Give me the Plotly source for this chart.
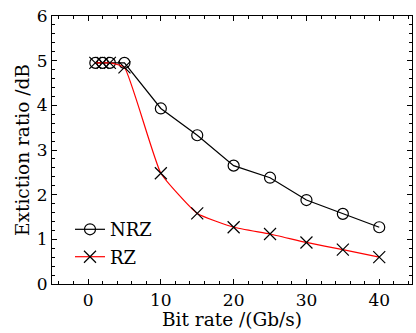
import plotly.graph_objects as go

bit_rate = [1, 2, 3, 5, 10, 15, 20, 25, 30, 35, 40]
nrz = [4.95, 4.95, 4.95, 4.95, 3.93, 3.33, 2.65, 2.38, 1.88, 1.57, 1.27]
rz = [4.95, 4.95, 4.95, 4.85, 2.48, 1.58, 1.27, 1.12, 0.93, 0.77, 0.60]

FONT = "DejaVu Serif"

fig = go.Figure()
fig.add_trace(go.Scatter(
    x=bit_rate, y=nrz, name="NRZ", mode="lines+markers", legendgroup="a",
    line=dict(color="black", width=1.2),
    marker=dict(symbol="circle-open", size=11, color="black", line=dict(width=1.2)),
))
fig.add_trace(go.Scatter(
    x=bit_rate, y=rz, name="RZ", mode="lines+markers", legendgroup="b",
    line=dict(color="red", width=1.2, shape="spline", smoothing=0.4),
    marker=dict(symbol="x-thin-open", size=12, color="black", line=dict(width=1.2, color="black")),
))

axis_common = dict(
    showgrid=False, zeroline=False, showline=True, linecolor="black", linewidth=1.2,
    mirror="allticks", ticks="inside", ticklen=5, tickcolor="black", tickwidth=1,
    tickfont=dict(family=FONT, size=17, color="black"),
)
fig.update_xaxes(
    range=[-4.95, 44.5], tickvals=[0, 10, 20, 30, 40],
    minor=dict(dtick=2, ticks="inside", ticklen=3, tickcolor="black"),
    title=dict(text="Bit rate /(Gb/s)", font=dict(family=FONT, size=18.5, color="black"), standoff=3),
    **axis_common,
)
fig.update_yaxes(
    range=[0, 6], dtick=1,
    minor=dict(dtick=0.2, ticks="inside", ticklen=3, tickcolor="black"),
    title=dict(text="Extiction ratio /dB", font=dict(family=FONT, size=18.5, color="black"), standoff=2),
    **axis_common,
)
fig.update_layout(
    width=416, height=333,
    margin=dict(l=52, r=4, t=16, b=49),
    paper_bgcolor="white", plot_bgcolor="white",
    showlegend=True,
    legend=dict(x=0.05, y=0.272, xanchor="left", yanchor="top", bgcolor="rgba(0,0,0,0)",
                font=dict(family=FONT, size=18, color="black"),
                tracegroupgap=1),
)
fig.write_html("out.html", config={"displayModeBar": False},
               post_script="document.body.style.margin='0';")
